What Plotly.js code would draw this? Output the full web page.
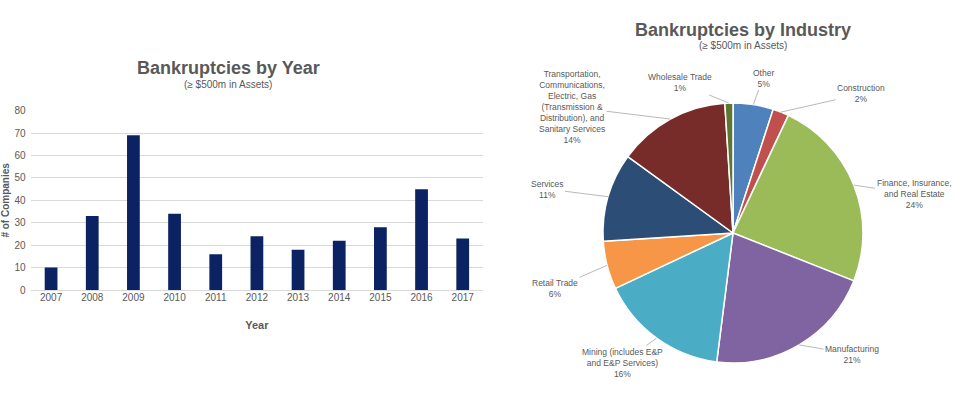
<!DOCTYPE html>
<html>
<head>
<meta charset="utf-8">
<script src="https://cdn.plot.ly/plotly-3.0.1.min.js"></script>
<style>html,body{margin:0;padding:0;background:#fff;}#chart{width:955px;height:398px;}</style>
</head>
<body>
<div id="chart"></div>
<script>
// ---- Data ----
const years = ["2007","2008","2009","2010","2011","2012","2013","2014","2015","2016","2017"];
const companies = [10, 33, 69, 34, 16, 24, 18, 22, 28, 45, 23];
const yTicks = [0,10,20,30,40,50,60,70,80];

const industries = ["Other","Construction","Finance, Insurance, and Real Estate","Manufacturing",
  "Mining (includes E&P and E&P Services)","Retail Trade","Services",
  "Transportation, Communications, Electric, Gas (Transmission & Distribution), and Sanitary Services",
  "Wholesale Trade"];
const industryShare = [5, 2, 24, 21, 16, 6, 11, 14, 1];
const industryLabels = ["Other","Construction","Finance, Insurance,<br>and Real Estate","Manufacturing",
  "Mining (includes E&P<br>and E&P Services)","Retail Trade","Services",
  "Transportation,<br>Communications,<br>Electric, Gas<br>(Transmission &<br>Distribution), and<br>Sanitary Services",
  "Wholesale Trade"];
const industryColors = ["#4F81BD","#C0504D","#9BBB59","#8064A2","#4BACC6","#F79646","#2C4D75","#772C2A","#5F7530"];

// ---- Layout constants ----
const W = 955, H = 398;
const FONT = "Liberation Sans, Arial, sans-serif";
const GREY = "#595959";
const pieCx = 733, pieCy = 233, pieR = 130;
// label centres (pixels) for pie labels, in slice order
const labelPos = [[763,78],[861,94],[914,194],[852,354],[622,363],[555,288],[547,189],[572,107],[680,83]];

const total = industryShare.reduce((a,b)=>a+b,0);
const annotations = [];
let cum = 0;
industryShare.forEach((v,i)=>{
  const mid = (cum + v/2)/total * 2*Math.PI;
  cum += v;
  const tx = pieCx + pieR*Math.sin(mid);
  const ty = pieCy - pieR*Math.cos(mid);
  const pct = Math.round(v/total*100) + "%";
  annotations.push({
    xref:"paper", yref:"paper", x: tx/W, y: 1 - ty/H,
    ax: labelPos[i][0]-tx, ay: labelPos[i][1]-ty,
    text: industryLabels[i] + "<br>" + pct,
    showarrow:true, arrowhead:0, arrowwidth:0.8, arrowcolor:"#a6a6a6", standoff:0,
    font:{family:FONT, size:8.5, color:GREY}, align:"center"
  });
});

// titles
annotations.push(
  {xref:"paper",yref:"paper",x:228/W,y:1-68/H,text:"<b>Bankruptcies by Year</b>",showarrow:false,
   font:{family:FONT,size:18,color:GREY},xanchor:"center",yanchor:"middle"},
  {xref:"paper",yref:"paper",x:228/W,y:1-85/H,text:"(≥ $500m in Assets)",showarrow:false,
   font:{family:FONT,size:10,color:GREY},xanchor:"center",yanchor:"middle"},
  {xref:"paper",yref:"paper",x:743/W,y:1-30/H,text:"<b>Bankruptcies by Industry</b>",showarrow:false,
   font:{family:FONT,size:18,color:GREY},xanchor:"center",yanchor:"middle"},
  {xref:"paper",yref:"paper",x:743/W,y:1-45.5/H,text:"(≥ $500m in Assets)",showarrow:false,
   font:{family:FONT,size:10,color:GREY},xanchor:"center",yanchor:"middle"}
);

const traces = [
  {type:"bar", x:years, y:companies, marker:{color:"#0B2263"}, xaxis:"x", yaxis:"y", hoverinfo:"x+y"},
  {type:"pie", labels:industries, values:industryShare, sort:false, direction:"clockwise", rotation:0,
   marker:{colors:industryColors, line:{color:"#ffffff", width:1.5}},
   textinfo:"none", showlegend:false,
   domain:{x:[(pieCx-pieR)/W,(pieCx+pieR)/W], y:[1-(pieCy+pieR)/H, 1-(pieCy-pieR)/H]}}
];

const layout = {
  width:W, height:H, margin:{l:0,r:0,t:0,b:0}, paper_bgcolor:"#fff", plot_bgcolor:"#fff",
  showlegend:false, bargap:0.69,
  font:{family:FONT, color:GREY},
  xaxis:{domain:[30.5/W, 483.3/W], type:"category", showgrid:false, zeroline:false,
    showline:false, ticks:"", tickfont:{size:10,color:GREY}, fixedrange:true,
    title:{text:"<b>Year</b>", font:{size:11,color:GREY}, standoff:19}},
  yaxis:{domain:[1-290/H, 1-110.7/H], range:[0,80], tickvals:yTicks, gridcolor:"#d9d9d9", gridwidth:1,
    zeroline:true, zerolinecolor:"#d9d9d9", showline:false, ticks:"", tickfont:{size:10,color:GREY},
    ticklabelstandoff:4,
    title:{text:"<b># of Companies</b>", font:{size:10,color:GREY}, standoff:6}},
  annotations: annotations
};

Plotly.newPlot("chart", traces, layout, {displayModeBar:false, staticPlot:true});
</script>
</body>
</html>
